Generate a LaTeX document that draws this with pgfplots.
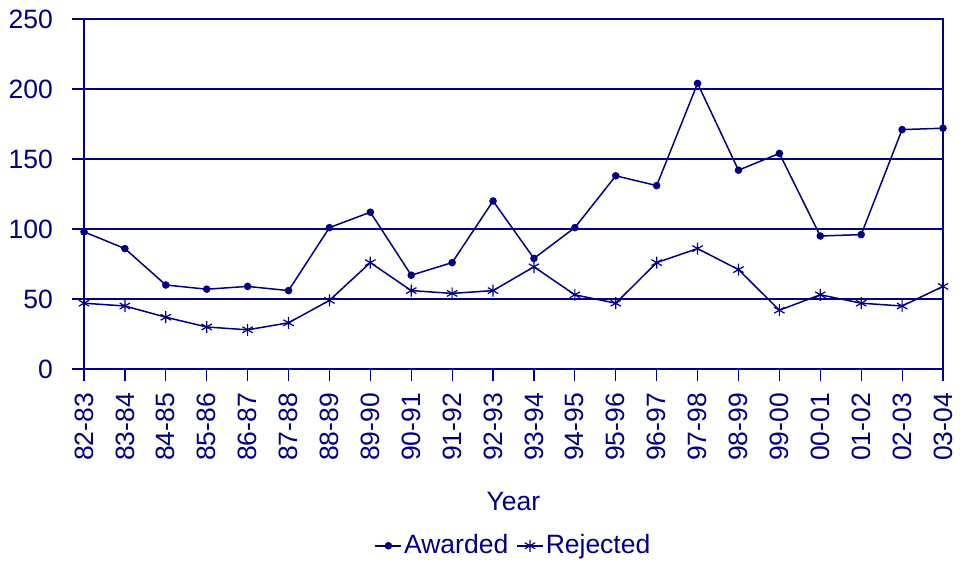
\documentclass[border=0pt]{standalone}
\usepackage{pgfplots}
\pgfplotsset{compat=1.18}
\usepackage{fontspec}
\setmainfont{Liberation Sans}
\definecolor{navy}{RGB}{0,0,128}
\begin{document}
\fontsize{26bp}{30bp}\selectfont
\begin{tikzpicture}
\begin{axis}[
  name=ax,
  at={(0,0)}, anchor=origin,
  scale only axis,
  width=859bp, height=350bp,
  xmin=0, xmax=21, ymin=0, ymax=250,
  axis line style={navy, line width=1.8bp},
  ytick={0,50,...,250},
  xtick={0,...,21},
  xticklabels={82-83,83-84,84-85,85-86,86-87,87-88,88-89,89-90,90-91,91-92,92-93,93-94,94-95,95-96,96-97,97-98,98-99,99-00,00-01,01-02,02-03,03-04},
  tick align=outside,
  major tick length=12bp,
  xtick pos=bottom, ytick pos=left,
  tick style={navy, line width=1.2bp},
  ymajorgrids,
  grid style={navy, line width=1.8bp},
  /pgf/number format/assume math mode=true,
  ticklabel style={font=\fontsize{26.5bp}{30bp}\selectfont, text=navy, inner sep=0pt},
  yticklabel style={xshift=-19bp},
  xticklabel style={rotate=90, anchor=east, xshift=-12bp},
  xlabel={Year},
  xlabel style={at={(axis description cs:0.5,-0.405)}, anchor=base, text=navy, font=\fontsize{26.5bp}{30bp}\selectfont},
  legend columns=2,
  legend style={at={(0.5,-0.505)}, anchor=center, draw=none, fill=none,
    font=\fontsize{26.5bp}{30bp}\selectfont, text=navy,
    inner sep=0pt, row sep=0pt,
    /tikz/every even column/.append style={column sep=6bp}},
  legend cell align=left,
  legend image code/.code={\draw[mark repeat=2,mark phase=2] plot coordinates {(0bp,0bp)(13bp,0bp)(26bp,0bp)};},
]
\addplot[navy, line width=1.5bp, mark=*, mark size=3bp] coordinates {
  (0,98) (1,86) (2,60) (3,57) (4,59) (5,56) (6,101) (7,112) (8,67) (9,76) (10,120)
  (11,79) (12,101) (13,138) (14,131) (15,204) (16,142) (17,154) (18,95) (19,96) (20,171) (21,172)
};
\addlegendentry{Awarded}
\addplot[navy, line width=1.5bp, mark=asterisk, mark size=6bp, mark options={line width=1.2bp}] coordinates {
  (0,47) (1,45) (2,37) (3,30) (4,28) (5,33) (6,49) (7,76) (8,56) (9,54) (10,56)
  (11,73) (12,53) (13,47) (14,76) (15,86) (16,71) (17,42) (18,53) (19,47) (20,45) (21,59)
};
\addlegendentry{Rejected}
\end{axis}
\path (-84bp,-194bp) rectangle (876bp,369bp);
\end{tikzpicture}
\end{document}
